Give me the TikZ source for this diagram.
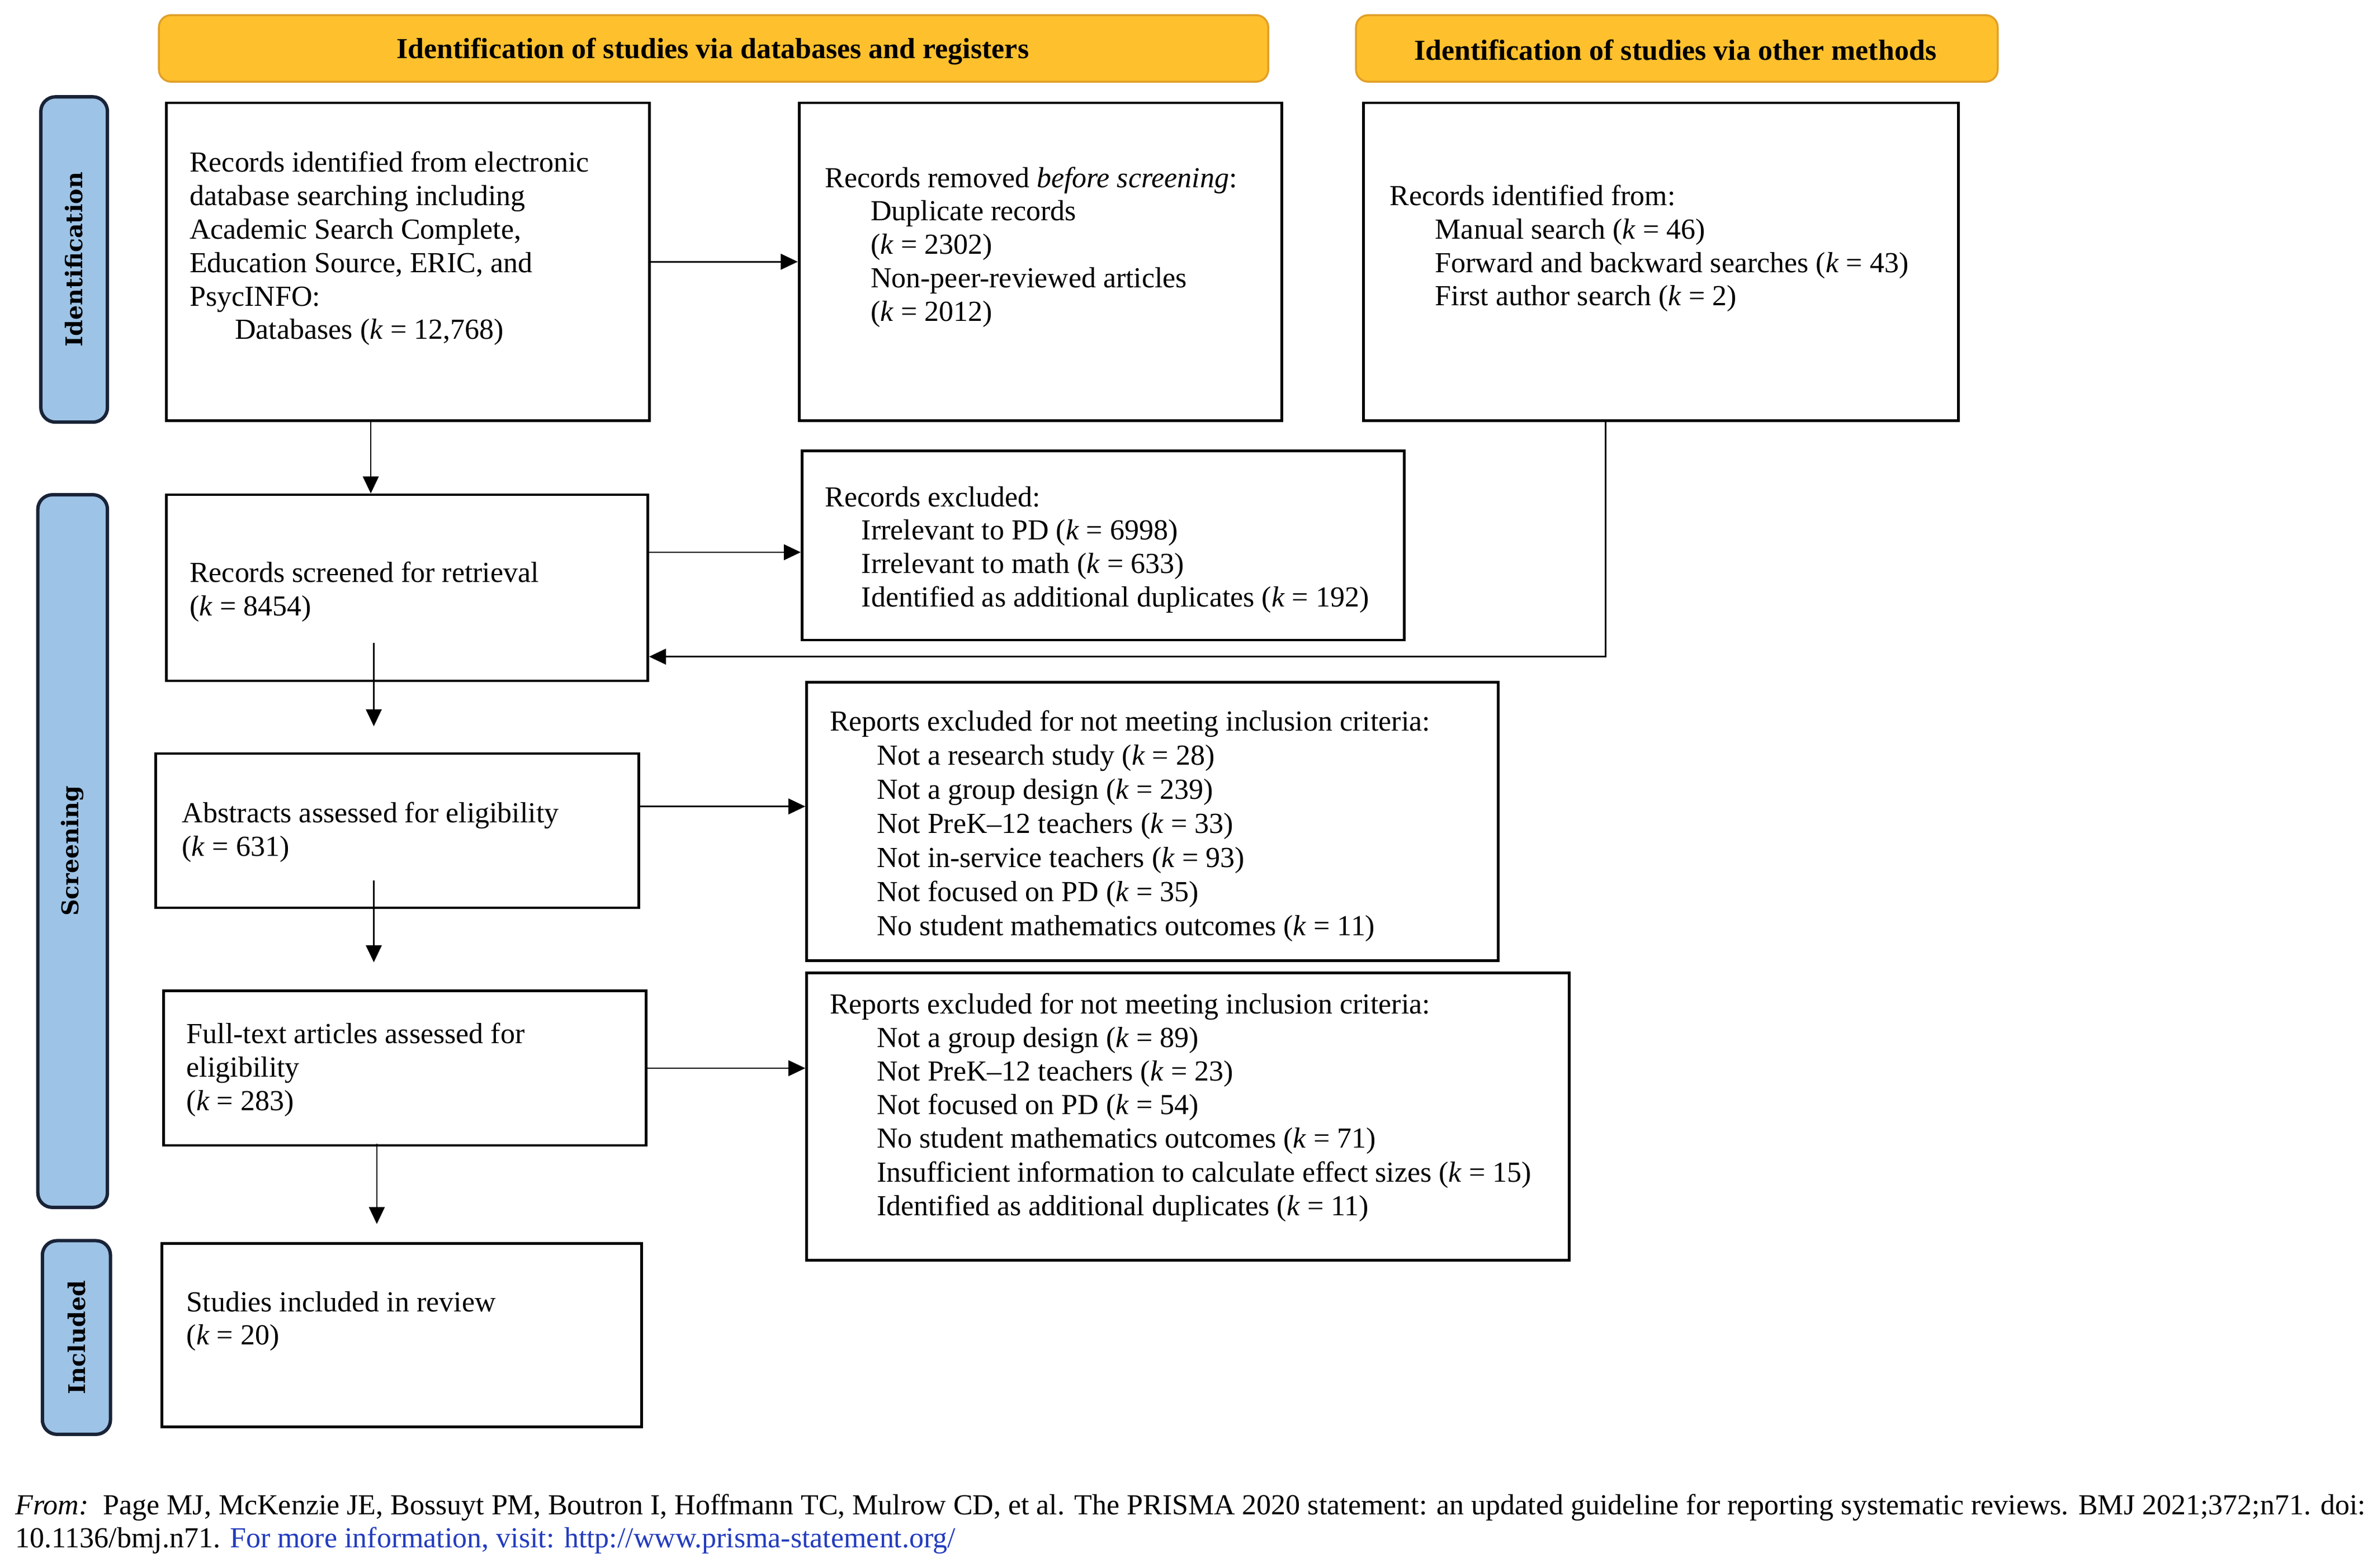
\documentclass[tikz,border=0pt]{standalone}
\usepackage{fontspec}
\setmainfont{Liberation Serif}
\newfontfamily\sidefont{DejaVu Serif}
\usetikzlibrary{arrows.meta,fit}
\definecolor{hdrfill}{RGB}{255,192,45}
\definecolor{hdrline}{RGB}{225,160,40}
\definecolor{sidefill}{RGB}{157,195,230}
\definecolor{sideline}{RGB}{25,35,55}
\definecolor{linkblue}{RGB}{35,60,190}
\begin{document}
\begin{tikzpicture}[x=0.625pt,y=-0.625pt,
 box/.style={draw=black,line width=1.1pt,inner sep=0pt},
 hdr/.style={draw=hdrline,fill=hdrfill,line width=0.8pt,rounded corners=5pt,inner sep=0pt},
 hdrtext/.style={inner sep=0pt,font=\fontsize{12}{14}\selectfont\bfseries},
 side/.style={draw=sideline,fill=sidefill,line width=1.4pt,rounded corners=6pt,inner sep=0pt},
 sidetext/.style={rotate=90,inner sep=0pt,font=\sidefont\bfseries\fontsize{9.5}{11}\selectfont},
 txt/.style={inner sep=0pt,anchor=north west,align=left,font=\fontsize{12}{13.8}\selectfont},
 foot/.style={inner sep=0pt,anchor=base west,font=\fontsize{12}{13.8}\selectfont},
 arr/.style={draw=black,line width=0.6pt,-{Triangle[length=7pt,width=6.5pt]}},
 ]
\useasboundingbox (0,0) rectangle (1568,1036);

% headers
\node[hdr,fit={(105,10)(838,54)}] (h1) {};
\node[hdrtext] (h1t) at (471,34) {Identification of studies via databases and registers};
\node[hdr,fit={(896,10)(1320,54)}] (h2) {};
\node[hdrtext] (h2t) at (1107,33) {Identification of studies via other methods};

% side labels
\node[side,fit={(27,64)(71,279)}] (s1) {};
\node[sidetext] (s1t) at (s1.center) {Identification};
\node[side,fit={(25,327)(71,798)}] (s2) {};
\node[sidetext] (s2t) at (s2.center) {Screening};
\node[side,fit={(28,820)(73,948)}] (s3) {};
\node[sidetext] (s3t) at (s3.center) {Included};

% boxes
\node[box,fit={(110,68)(429,278)}] (b1) {};
\node[box,fit={(528,68)(847,278)}] (b2) {};
\node[box,fit={(901,68)(1294,278)}] (b3) {};
\node[box,fit={(110,327)(428,450)}] (b4) {};
\node[box,fit={(530,298)(928,423)}] (b5) {};
\node[box,fit={(103,498)(422,600)}] (b6) {};
\node[box,fit={(533,451)(990,635)}] (b7) {};
\node[box,fit={(108,655)(427,757)}] (b8) {};
\node[box,fit={(533,643)(1037,833)}] (b9) {};
\node[box,fit={(107,822)(424,943)}] (b10) {};

% texts
\node[txt] (t1) at (125,98) {\strut Records identified from electronic\\
database searching including\\
Academic Search Complete,\\
Education Source, ERIC, and\\
PsycINFO:\\
\hspace*{18.75pt}Databases (\textit{k} = 12,768)};

\node[txt] (t2) at (545,108) {\strut Records removed \textit{before screening}:\\
\hspace*{18.75pt}Duplicate records\\
\hspace*{18.75pt}(\textit{k} = 2302)\\
\hspace*{18.75pt}Non-peer-reviewed articles\\
\hspace*{18.75pt}(\textit{k} = 2012)};

\node[txt] (t3) at (918,120) {\strut Records identified from:\\
\hspace*{18.75pt}Manual search (\textit{k} = 46)\\
\hspace*{18.75pt}Forward and backward searches (\textit{k} = 43)\\
\hspace*{18.75pt}First author search (\textit{k} = 2)};

\node[txt] (t4) at (125,369) {\strut Records screened for retrieval\\
(\textit{k} = 8454)};

\node[txt] (t5) at (545,319) {\strut Records excluded:\\
\hspace*{15pt}Irrelevant to PD (\textit{k} = 6998)\\
\hspace*{15pt}Irrelevant to math (\textit{k} = 633)\\
\hspace*{15pt}Identified as additional duplicates (\textit{k} = 192)};

\node[txt] (t6) at (120,528) {\strut Abstracts assessed for eligibility\\
(\textit{k} = 631)};

\node[txt,font=\fontsize{12}{14.1}\selectfont] (t7) at (548,467) {\strut Reports excluded for not meeting inclusion criteria:\\
\hspace*{19.4pt}Not a research study (\textit{k} = 28)\\
\hspace*{19.4pt}Not a group design (\textit{k} = 239)\\
\hspace*{19.4pt}Not PreK--12 teachers (\textit{k} = 33)\\
\hspace*{19.4pt}Not in-service teachers (\textit{k} = 93)\\
\hspace*{19.4pt}Not focused on PD (\textit{k} = 35)\\
\hspace*{19.4pt}No student mathematics outcomes (\textit{k} = 11)};

\node[txt] (t8) at (123,674) {\strut Full-text articles assessed for\\
eligibility\\
(\textit{k} = 283)};

\node[txt,font=\fontsize{12}{13.9}\selectfont] (t9) at (548,654) {\strut Reports excluded for not meeting inclusion criteria:\\
\hspace*{19.4pt}Not a group design (\textit{k} = 89)\\
\hspace*{19.4pt}Not PreK--12 teachers (\textit{k} = 23)\\
\hspace*{19.4pt}Not focused on PD (\textit{k} = 54)\\
\hspace*{19.4pt}No student mathematics outcomes (\textit{k} = 71)\\
\hspace*{19.4pt}Insufficient information to calculate effect sizes (\textit{k} = 15)\\
\hspace*{19.4pt}Identified as additional duplicates (\textit{k} = 11)};

\node[txt] (t10) at (123,851) {\strut Studies included in review\\
(\textit{k} = 20)};

% helper coordinates
\coordinate (a1) at (245,0);
\coordinate (a2) at (0,365);
\coordinate (a3) at (0,533);
\coordinate (a4) at (0,706);
\coordinate (c3) at (1061,434);
\coordinate (p1) at (247,425);
\coordinate (p2) at (247,480);
\coordinate (p3) at (247,582);
\coordinate (p4) at (247,636);
\coordinate (p5) at (249,756);
\coordinate (p6) at (249,809);

% connectors
\draw[arr] (b1) -- (b2);
\draw[arr] (b1.south -| a1) -- (b4.north -| a1);
\draw[arr] (b4.east |- a2) -- (b5.west |- a2);
\draw[arr] (b3.south -| c3) -- (c3) -- (c3 -| b4.east);
\draw[arr] (p1) -- (p2);
\draw[arr] (b6.east |- a3) -- (b7.west |- a3);
\draw[arr] (p3) -- (p4);
\draw[arr] (b8.east |- a4) -- (b9.west |- a4);
\draw[arr] (p5) -- (p6);

% footer
\node[foot] (f1) at (10,1001) {\textit{From:}~~Page MJ, McKenzie JE, Bossuyt PM, Boutron I, Hoffmann TC, Mulrow CD, et al. The PRISMA 2020 statement: an updated guideline for reporting systematic reviews. BMJ 2021;372;n71. doi:};
\node[foot] (f2) at (10,1023) {10.1136/bmj.n71. \textcolor{linkblue}{For more information, visit: http://www.prisma-statement.org/}};
\end{tikzpicture}
\end{document}
